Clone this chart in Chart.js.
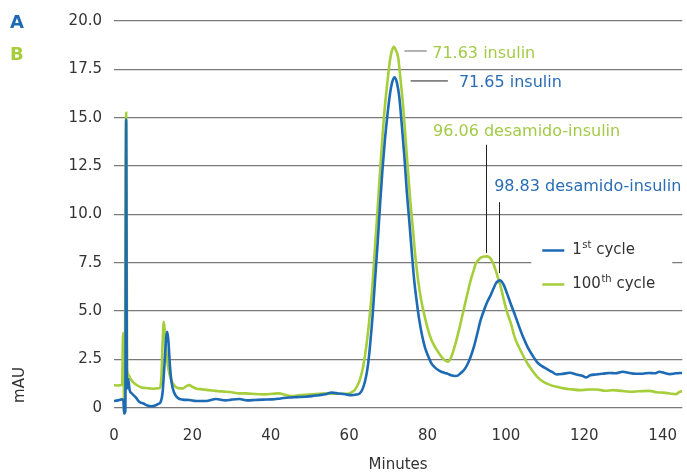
<!DOCTYPE html>
<html>
<head>
<meta charset="utf-8">
<script src="https://cdn.jsdelivr.net/npm/chart.js@4.4.1/dist/chart.umd.min.js"></script>
<style>
  html, body { margin: 0; padding: 0; background: #fff; }
  #wrap { width: 687px; height: 476px; }
</style>
</head>
<body>
<div id="wrap"><canvas id="insulinChart" width="687" height="476"></canvas></div>
<script>
// readings taken off the chromatogram (minutes / mAU)
var cycle1Minutes = [0, 1, 2, 2.4, 2.6, 2.9, 3.1, 3.3, 3.6, 4, 4.5, 5.5, 6.5, 7.5, 8.5, 9.5, 10.5, 11.3, 11.9, 12.4, 12.9, 13.3, 13.6, 13.9, 14.3, 14.7, 15.3, 16.3, 17.5, 19.2, 21, 23.5, 26, 28.5, 30, 32, 34, 36, 38, 40.3, 42.5, 44.6, 46.5, 48.8, 50.5, 52.2, 54, 55.5, 57.2, 59, 60.6, 61.8, 62.7, 63.5, 64.2, 64.8, 65.3, 66, 66.6, 67.3, 67.9, 68.5, 69.1, 69.8, 70.4, 71, 71.6, 72.2, 72.8, 73.4, 74.1, 74.7, 75.4, 76, 76.6, 77.3, 77.9, 78.6, 79.3, 80.2, 81, 81.8, 82.7, 83.5, 84.4, 85.2, 86, 86.9, 87.7, 88.5, 89.3, 90.2, 91, 91.9, 92.7, 93.5, 94.4, 95.2, 96.1, 96.8, 97.4, 98, 98.5, 99, 99.5, 100.3, 101.2, 102.3, 103.4, 104.5, 105.5, 106.8, 108, 109.2, 110.5, 111.8, 113, 114.5, 116.3, 118, 119.5, 120.5, 121.5, 123, 124.7, 126.5, 128, 129.8, 131.5, 133, 134.9, 136.5, 138, 139.1, 140.5, 141.8, 143.3, 145];
var cycle1Mau = [0.35, 0.38, 0.43, 0.4, -0.3, -0.2, 14.9, 1.0, 1.5, 0.9, 0.75, 0.55, 0.3, 0.22, 0.12, 0.08, 0.12, 0.2, 0.3, 0.8, 2.3, 3.6, 3.93, 3.4, 2.1, 1.3, 0.8, 0.5, 0.42, 0.4, 0.35, 0.35, 0.45, 0.38, 0.42, 0.45, 0.38, 0.4, 0.42, 0.43, 0.48, 0.53, 0.55, 0.57, 0.6, 0.65, 0.7, 0.78, 0.74, 0.7, 0.65, 0.68, 0.74, 1.0, 1.5, 2.2, 3.15, 4.8, 6.59, 8.6, 10.55, 12.3, 13.8, 15.2, 16.2, 16.85, 17.09, 16.8, 16.05, 14.7, 12.96, 11.2, 9.52, 8.0, 6.59, 5.4, 4.53, 3.75, 3.15, 2.65, 2.29, 2.1, 1.95, 1.86, 1.8, 1.75, 1.68, 1.64, 1.66, 1.8, 1.95, 2.25, 2.64, 3.2, 3.84, 4.5, 5.04, 5.45, 5.82, 6.15, 6.42, 6.55, 6.59, 6.5, 6.33, 5.9, 5.39, 4.8, 4.18, 3.6, 3.15, 2.7, 2.35, 2.15, 2.0, 1.85, 1.72, 1.75, 1.81, 1.72, 1.65, 1.57, 1.68, 1.72, 1.76, 1.8, 1.78, 1.86, 1.8, 1.76, 1.76, 1.8, 1.78, 1.86, 1.8, 1.74, 1.78, 1.8];

var cycle100Minutes = [0, 1, 1.8, 2.1, 2.3, 2.45, 2.55, 2.75, 3.1, 3.35, 3.7, 4.2, 5, 6, 7, 8, 9, 10, 11, 11.7, 12.1, 12.4, 12.7, 13, 13.4, 13.8, 14.2, 14.6, 15.2, 15.9, 17, 17.6, 18.5, 19.2, 20, 20.9, 22.5, 24.3, 26.5, 28.5, 30, 31.9, 33.5, 35, 37, 38.7, 40.5, 42, 43.8, 45.4, 47, 48.8, 50.5, 52.2, 53.8, 55.5, 57.2, 58.5, 59.7, 60.6, 61.4, 62.1, 62.7, 63.4, 64, 64.7, 65.3, 66, 66.6, 67.3, 67.9, 68.5, 69.1, 69.8, 70.4, 70.9, 71.4, 71.9, 72.5, 73.1, 73.8, 74.4, 75, 75.6, 76.3, 76.9, 77.6, 78.4, 79.3, 80.1, 81, 81.9, 82.7, 83.5, 84.4, 85.2, 86, 86.9, 88, 89, 90, 91, 91.7, 92.3, 93, 93.6, 94.5, 95.3, 96.1, 96.8, 97.4, 98, 98.7, 99.5, 100.4, 101.3, 102, 102.7, 103.4, 104.5, 105.5, 106.8, 108, 109.5, 111.4, 113, 114.8, 116.8, 118.9, 121, 123.2, 125.3, 127.4, 129.5, 131.6, 134, 136.7, 138.5, 140, 141.8, 143.3, 144.4, 145];
var cycle100Mau = [1.17, 1.15, 1.17, 1.2, 3.85, 3.85, -0.3, 1.0, 15.25, 2.0, 1.7, 1.5, 1.3, 1.15, 1.05, 1.02, 1.0, 0.98, 1.0, 1.02, 1.6, 3.3, 4.44, 3.9, 2.8, 2.1, 1.7, 1.43, 1.2, 1.05, 1.0, 1.0, 1.12, 1.17, 1.08, 1.0, 0.95, 0.91, 0.86, 0.83, 0.8, 0.74, 0.74, 0.72, 0.7, 0.69, 0.72, 0.74, 0.66, 0.6, 0.64, 0.67, 0.69, 0.72, 0.74, 0.73, 0.72, 0.72, 0.72, 0.8, 0.91, 1.15, 1.43, 1.95, 2.64, 3.7, 4.87, 6.5, 8.31, 10.4, 12.27, 14.0, 15.54, 16.9, 17.95, 18.45, 18.67, 18.5, 18.12, 17.0, 15.54, 13.9, 12.27, 10.7, 9.17, 7.8, 6.59, 5.55, 4.7, 4.05, 3.5, 3.15, 2.89, 2.65, 2.46, 2.38, 2.6, 3.15, 4.0, 4.87, 5.75, 6.59, 7.05, 7.45, 7.65, 7.76, 7.82, 7.83, 7.71, 7.45, 7.1, 6.7, 6.24, 5.55, 4.87, 4.35, 3.8, 3.4, 3.1, 2.65, 2.29, 1.9, 1.6, 1.35, 1.17, 1.08, 1.0, 0.95, 0.91, 0.94, 0.94, 0.88, 0.91, 0.87, 0.83, 0.85, 0.87, 0.8, 0.78, 0.74, 0.7, 0.83, 0.85];

var yTickValues = [0, 2.5, 5, 7.5, 10, 12.5, 15, 17.5, 20];
var xTickValues = [0, 20, 40, 60, 80, 100, 120, 140];
var peakLabels = ['71.63 insulin', '71.65 insulin', '96.06 desamido-insulin', '98.83 desamido-insulin'];
var legendNames = [['1', 'st', ' cycle'], ['100', 'th', ' cycle']];

var BLUE = '#1d6ab5';
var GREEN = '#a6ce3b';
var FONT = '"DejaVu Sans", Verdana, sans-serif';

function toPoints(xs, ys) {
    return xs.map(function (x, i) { return { x: x, y: ys[i] }; });
}

// labels, peak markers, legend box and A/B tags
var extrasPlugin = {
    id: 'extras',
    afterDatasetsDraw: function (chart) {
        var ctx = chart.ctx;
        var xs = chart.scales.x, ys = chart.scales.y;
        var area = chart.chartArea;
        function px(v) { return xs.getPixelForValue(v); }
        function py(v) { return ys.getPixelForValue(v); }
        ctx.save();

        // peak markers
        ctx.lineWidth = 1.3;
        ctx.strokeStyle = '#8a8a8a';
        ctx.beginPath(); ctx.moveTo(px(74.1), py(18.45)); ctx.lineTo(px(79.8), py(18.45)); ctx.stroke();
        ctx.strokeStyle = '#222';
        ctx.lineWidth = 1;
        ctx.beginPath(); ctx.moveTo(px(75.7), py(16.9)); ctx.lineTo(px(85.2), py(16.9)); ctx.stroke();
        ctx.beginPath(); ctx.moveTo(Math.round(px(94.97)) + 0.5, py(13.6)); ctx.lineTo(Math.round(px(94.97)) + 0.5, py(8.0)); ctx.stroke();
        ctx.beginPath(); ctx.moveTo(Math.round(px(98.25)) + 0.5, py(10.63)); ctx.lineTo(Math.round(px(98.25)) + 0.5, py(6.96)); ctx.stroke();

        ctx.font = '16px ' + FONT;
        ctx.textAlign = 'left';
        ctx.textBaseline = 'middle';
        ctx.fillStyle = '#a3cb47';
        ctx.fillText(peakLabels[0], px(81.2), py(18.28));
        ctx.fillText(peakLabels[2], px(81.4), py(14.27));
        ctx.fillStyle = '#2a6db5';
        ctx.fillText(peakLabels[1], px(88.0), py(16.82));
        ctx.fillText(peakLabels[3], px(97.0), py(11.4));

        // legend
        var lx = area.right - 151;
        ctx.fillStyle = '#fff';
        ctx.fillRect(lx, 233, 141, 67);
        var rows = [{ c: BLUE, y: 250.5 }, { c: GREEN, y: 284.5 }];
        rows.forEach(function (r, i) {
            ctx.strokeStyle = r.c;
            ctx.lineWidth = 2.5;
            ctx.beginPath(); ctx.moveTo(lx + 11, r.y); ctx.lineTo(lx + 33, r.y); ctx.stroke();
            var tx = lx + 41;
            var parts = legendNames[i];
            ctx.fillStyle = '#333';
            ctx.font = '15px ' + FONT;
            ctx.fillText(parts[0], tx, r.y);
            tx += ctx.measureText(parts[0]).width + 0.5;
            ctx.font = '10px ' + FONT;
            ctx.fillText(parts[1], tx, r.y - 5);
            tx += ctx.measureText(parts[1]).width;
            ctx.font = '15px ' + FONT;
            ctx.fillText(parts[2], tx, r.y);
        });

        // panel tags
        ctx.font = 'bold 18px ' + FONT;
        ctx.fillStyle = BLUE;
        ctx.fillText('A', 10, 23);
        ctx.fillStyle = GREEN;
        ctx.fillText('B', 10, 55);

        // y axis title, sits low on the left
        ctx.translate(20, 385);
        ctx.rotate(-Math.PI / 2);
        ctx.textAlign = 'center';
        ctx.fillStyle = '#333';
        ctx.font = '15px ' + FONT;
        ctx.fillText('mAU', 0, 0);
        ctx.restore();
    }
};

var ctx = document.getElementById('insulinChart').getContext('2d');
var chart = new Chart(ctx, {
    type: 'line',
    data: {
        datasets: [{
            label: '1st cycle',
            data: toPoints(cycle1Minutes, cycle1Mau),
            borderColor: BLUE,
            borderWidth: 2.6,
            pointRadius: 0,
            cubicInterpolationMode: 'monotone',
            fill: false
        }, {
            label: '100th cycle',
            data: toPoints(cycle100Minutes, cycle100Mau),
            borderColor: GREEN,
            borderWidth: 2.6,
            pointRadius: 0,
            cubicInterpolationMode: 'monotone',
            fill: false
        }]
    },
    options: {
        responsive: false,
        animation: false,
        layout: { padding: { top: 20, left: 0, right: 0, bottom: 0 } },
        plugins: { legend: { display: false }, tooltip: { enabled: false } },
        scales: {
            x: {
                type: 'linear',
                min: 0,
                max: 145,
                afterBuildTicks: function (scale) {
                    scale.ticks = xTickValues.map(function (v) { return { value: v }; });
                },
                afterFit: function (scale) { scale.height = 58.6; },
                grid: { display: false, drawTicks: false },
                border: { display: false },
                ticks: {
                    padding: 10,
                    maxRotation: 0,
                    color: '#333',
                    font: { family: FONT, size: 15 }
                },
                title: {
                    display: true,
                    text: 'Minutes',
                    color: '#333',
                    font: { family: FONT, size: 15 },
                    padding: { top: 0, bottom: 2 }
                }
            },
            y: {
                min: -0.5,
                max: 20,
                afterBuildTicks: function (scale) {
                    scale.ticks = yTickValues.map(function (v) { return { value: v }; });
                },
                afterFit: function (scale) { scale.width = 114; },
                grid: { color: '#7a7a7a', lineWidth: 1.2, drawTicks: false },
                border: { display: false },
                ticks: {
                    padding: 12,
                    color: '#333',
                    font: { family: FONT, size: 15 },
                    callback: function (v) { return v === 0 ? '0' : v.toFixed(1); }
                }
            }
        }
    },
    plugins: [extrasPlugin]
});
</script>
</body>
</html>
